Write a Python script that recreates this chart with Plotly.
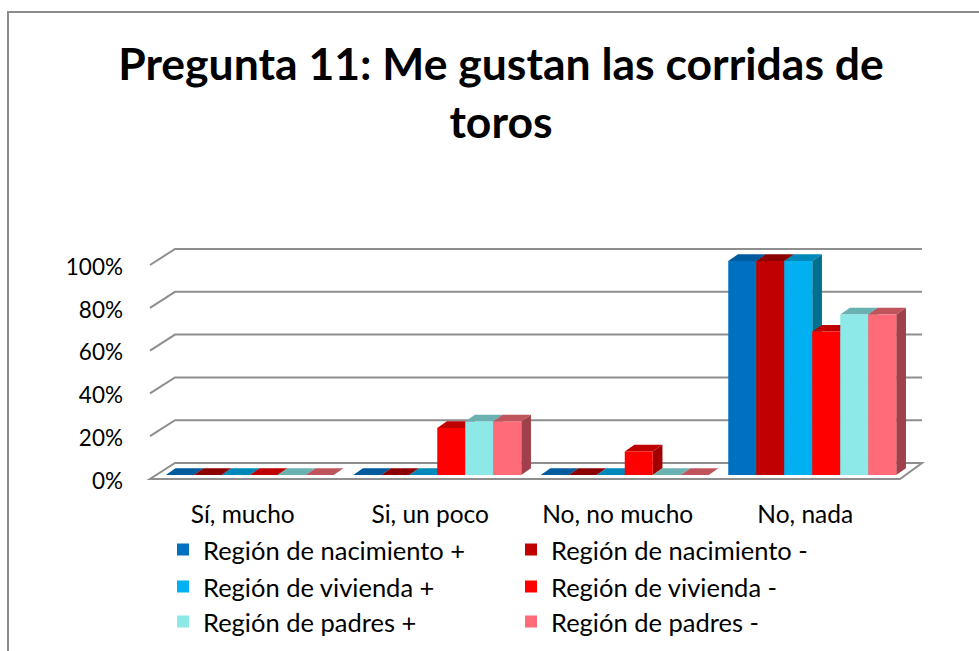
import plotly.graph_objects as go

categories = ["Sí, mucho", "Si, un poco", "No, no mucho", "No, nada"]
series_names = [
    "Región de nacimiento +",
    "Región de nacimiento -",
    "Región de vivienda +",
    "Región de vivienda -",
    "Región de padres +",
    "Región de padres -",
]
nacimiento_pos = [0.0, 0.0, 0.0, 1.0]
nacimiento_neg = [0.0, 0.0, 0.0, 1.0]
vivienda_pos = [0.0, 0.0, 0.0, 1.0]
vivienda_neg = [0.0, 0.22, 0.11, 0.67]
padres_pos = [0.0, 0.25, 0.0, 0.75]
padres_neg = [0.0, 0.25, 0.0, 0.75]
y_ticks = [0, 0.2, 0.4, 0.6, 0.8, 1.0]

series_values = [nacimiento_pos, nacimiento_neg, vivienda_pos, vivienda_neg, padres_pos, padres_neg]
colors = ["#0070C0", "#C00000", "#00B0F0", "#FF0000", "#8DE8E8", "#FF6B78"]
top_colors = ["#005A9E", "#8B0000", "#0088BB", "#BE0000", "#6AB2B2", "#C0545C"]
side_colors = ["#004A80", "#700000", "#00708F", "#A00000", "#559090", "#A0404A"]
legend_ids = ["legend", "legend", "legend2", "legend2", "legend3", "legend3"]

FONT = "Lato"
GRID = "#8E8E8E"

W, H = 979, 651
ml, mr, mt, mb = 156, 73, 261, 176
PW, PH = W - ml - mr, H - mt - mb
BARGAP = 0.104

fig = go.Figure()
for name, vals, col, lg in zip(series_names, series_values, colors, legend_ids):
    fig.add_trace(go.Bar(
        x=categories, y=vals, name=name, marker_color=col,
        marker_line_width=0, legend=lg,
    ))

# ---- pseudo-3D back wall, floor and gridlines (paper coords, derived from the ticks) ----
px, py = 1.0 / PW, 1.0 / PH
fx, fy = -6 * px, -4 * py          # front edge offset (left/down from the bar plane)
bx, by = 19 * px, 12 * py          # back wall offset (right/up from the bar plane)
for v in y_ticks:
    if v == 0:
        path = (f"M{fx},{v + fy} L{1 + fx},{v + fy} L{1 + bx - 3*px},{v + by} "
                f"L{bx},{v + by} Z")
        fig.add_shape(type="path", xref="paper", yref="paper", path=path,
                      line=dict(color=GRID, width=2), fillcolor="white", layer="below")
    else:
        path = f"M{fx},{v + fy} L{bx},{v + by} L{1 + bx - 3*px},{v + by}"
        fig.add_shape(type="path", xref="paper", yref="paper", path=path,
                      line=dict(color=GRID, width=2), layer="below")

# ---- bar depth faces (top and right side), computed from the data ----
n_cat, n_ser = len(categories), len(series_values)
bw = (1 - BARGAP) / n_ser          # bar width in category units
ddx, ddy = 9.7 * px, 6.7 * py      # bar depth offset
for i in range(n_cat):
    for j in range(n_ser):
        v = series_values[j][i]
        xl = (i + 0.5 + (j - n_ser / 2) * bw) / n_cat
        xr = xl + bw / n_cat
        if v > 0:
            side = (f"M{xr},{0} L{xr},{v} L{xr + ddx},{v + ddy} "
                    f"L{xr + ddx},{ddy} Z")
            fig.add_shape(type="path", xref="paper", yref="paper", path=side,
                          line=dict(width=0), fillcolor=side_colors[j], layer="between")
        top = (f"M{xl},{v} L{xr},{v} L{xr + ddx},{v + ddy} "
               f"L{xl + ddx},{v + ddy} Z")
        fig.add_shape(type="path", xref="paper", yref="paper", path=top,
                      line=dict(width=0), fillcolor=top_colors[j], layer="between")


def leg(ypx):
    return dict(
        orientation="h", xref="container", yref="container",
        x=163 / W, xanchor="left",
        y=1 - ypx / H, yanchor="middle",
        entrywidth=303, font=dict(family=FONT, size=25.5, color="#000000"),
        bgcolor="rgba(0,0,0,0)", traceorder="normal",
    )


fig.update_layout(
    width=W, height=H,
    margin=dict(l=ml, r=mr, t=mt, b=mb, autoexpand=False),
    paper_bgcolor="white", plot_bgcolor="rgba(0,0,0,0)",
    barmode="group", bargap=BARGAP, bargroupgap=0,
    font=dict(family=FONT, size=20, color="#000000"),
    title=dict(
        text="<b>Pregunta 11: Me gustan las corridas de<br>toros</b>",
        x=501 / W, xref="container", xanchor="center",
        y=1 - 80 / H, yref="container", yanchor="middle",
        font=dict(family=FONT, size=44.5, color="#000000"),
    ),
    xaxis=dict(
        showgrid=False, showline=False, ticks="", zeroline=False,
        tickfont=dict(family=FONT, size=24.5, color="#000000"),
        ticklabelstandoff=22, ticklabelshift=-7, automargin=False,
    ),
    yaxis=dict(
        range=[0, 1], tickvals=y_ticks, tickformat=".0%",
        showgrid=False, zeroline=False, showline=False, ticks="",
        tickfont=dict(family=FONT, size=22.5, color="#000000"),
        ticklabelstandoff=32, ticklabelshift=6, automargin=False,
    ),
    legend=leg(550),
    legend2=leg(587),
    legend3=leg(622),
    showlegend=True,
)

# outer chart border (extends past the visible window, as in the reference)
fig.add_shape(type="rect", xref="paper", yref="paper",
              x0=-(ml - 8) / PW, x1=1 + (mr + 20) / PW,
              y0=-(mb + 20) / PH, y1=1 + (mt - 12) / PH,
              line=dict(color="#8C8C8C", width=2), fillcolor="rgba(0,0,0,0)", layer="below")

fig.write_html("out.html", config={"displayModeBar": False},
               post_script="document.body.style.margin='0';")
